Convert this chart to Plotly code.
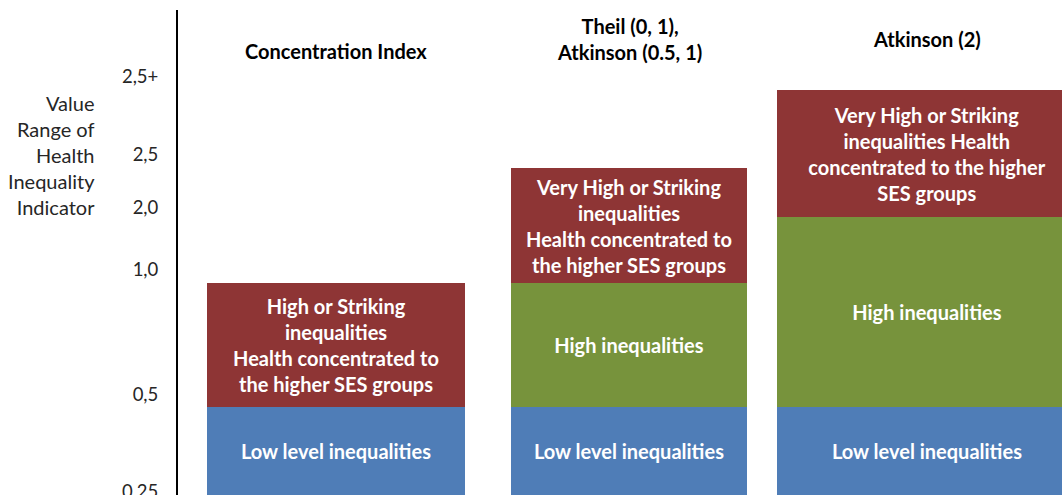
import plotly.graph_objects as go

# ---- data (schematic segment heights, in axis units) ----
categories = ["Concentration Index", "Theil (0, 1),<br>Atkinson (0.5, 1)", "Atkinson (2)"]
low_values = [88, 88, 88]
mid_values = [124, 124, 190]
top_values = [0, 115, 127]
low_text = ["Low level inequalities", "Low level inequalities", "Low level inequalities"]
mid_text = ["High or Striking<br>inequalities<br>Health concentrated to<br>the higher SES groups",
            "High inequalities", "High inequalities"]
top_text = ["",
            "Very High or Striking<br>inequalities<br>Health concentrated to<br>the higher SES groups",
            "Very High or Striking<br>inequalities Health<br>concentrated to the higher<br>SES groups"]
tick_vals = [3, 100, 225, 287, 340, 418]
tick_labels = ["0,25", "0,5", "1,0", "2,0", "2,5", "2,5+"]
axis_title = "Value<br>Range of<br>Health<br>Inequality<br>Indicator"

# ---- layout constants ----
BLUE = "#4F7DB7"
RED = "#8E3535"
GREEN = "#77933C"
bar_x = [336, 629, 927]
bar_w = [258, 236, 300]
mid_colors = [RED, GREEN, GREEN]
FONT = "Lato, 'Open Sans', sans-serif"

fig = go.Figure()
common = dict(x=bar_x, width=bar_w, textposition="inside", insidetextanchor="middle",
              textangle=0, textfont=dict(family=FONT, size=20, color="white"),
              marker_line_width=0, showlegend=False, hoverinfo="skip", cliponaxis=False)
fig.add_trace(go.Bar(y=low_values, text=[f"<b>{t}</b>" for t in low_text],
                     marker_color=BLUE, **common))
fig.add_trace(go.Bar(y=mid_values, text=[f"<b>{t}</b>" for t in mid_text],
                     marker_color=mid_colors, **common))
fig.add_trace(go.Bar(y=top_values, text=[f"<b>{t}</b>" if t else "" for t in top_text],
                     marker_color=RED, **common))

label_y = [444, 456, 456]
for xc, cat, ly in zip(bar_x, categories, label_y):
    fig.add_annotation(x=xc, y=ly, xref="x", yref="y", text=f"<b>{cat}</b>",
                       showarrow=False, font=dict(family=FONT, size=20, color="black"),
                       align="center", yanchor="middle")

fig.add_annotation(x=(97 - 178) / 884, y=340, xref="paper", yref="y", text=axis_title,
                   showarrow=False, xanchor="right", align="right",
                   font=dict(family=FONT, size=20, color="#262626"))

fig.update_layout(
    width=1064, height=495,
    margin=dict(l=178, r=2, t=10, b=0, autoexpand=False),
    barmode="stack", bargap=0,
    plot_bgcolor="white", paper_bgcolor="white",
    uniformtext=dict(minsize=20, mode="show"),
    xaxis=dict(range=[178, 1062], visible=False, automargin=False),
    yaxis=dict(range=[0, 485], tickvals=tick_vals, ticktext=tick_labels, automargin=False,
               showgrid=False, zeroline=False, showline=True, linecolor="black",
               linewidth=2, ticks="", ticklabelstandoff=14, ticklabeloverflow="allow",
               tickfont=dict(family=FONT, size=18.5, color="#262626")),
)
fig.write_html(
    "out.html",
    config={"displayModeBar": False},
    post_script="document.body.style.margin='0';document.body.style.overflow='hidden';",
)
